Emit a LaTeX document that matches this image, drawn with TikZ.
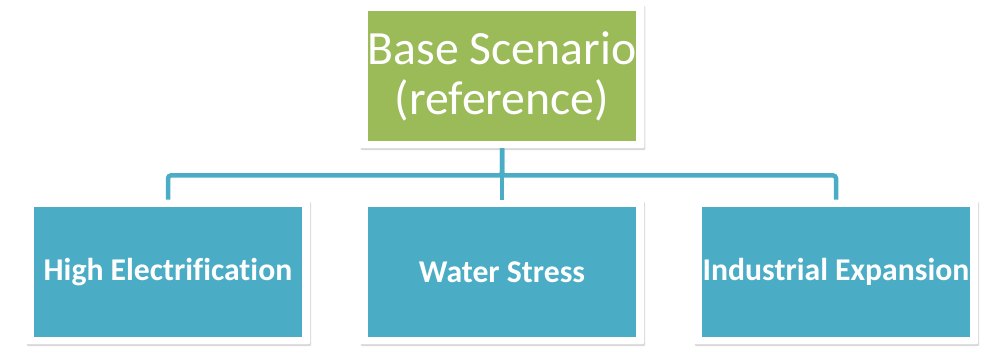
\documentclass[tikz,border=0pt]{standalone}
\usepackage{fontspec}
\setmainfont{Carlito}[Ligatures=NoCommon]
\usetikzlibrary{shadows,fit,backgrounds}
\definecolor{leafgreen}{HTML}{9BBB59}
\definecolor{tealblue}{HTML}{4BACC6}
\begin{document}
\begin{tikzpicture}[x=1pt,y=-1pt,
  card/.style={rectangle, minimum width=268pt, minimum height=130pt, inner sep=0pt, text=white, align=center},
  rootcard/.style={card, fill=leafgreen, font=\fontsize{47.7}{50}\selectfont},
  leafcard/.style={card, fill=tealblue, font=\bfseries\fontsize{31.7}{36}\selectfont},
  frame/.style={rectangle, fill=white, inner xsep=8pt, inner ysep=7pt, rounded corners=2pt,
    drop shadow={opacity=0.3, shadow xshift=1pt, shadow yshift=-2pt}},
  conn/.style={draw=tealblue, line width=4.5pt, rounded corners=3pt}]
\useasboundingbox (0,0) rectangle (984,346);

% coloured cards
\node[rootcard] (root) at (502,76) {Base Scenario\\(reference)};
\node[leafcard] (elec) at (168,272) {High Electrification};
\node[leafcard] (water) at (502,272) {Water Stress};
\node[leafcard] (indus) at (836,272) {Industrial Expansion};

% white frames and connectors behind the cards
\begin{scope}[on background layer]
  \node[frame, fit=(root)] (rootf) {};
  \node[frame, fit=(elec)] (elecf) {};
  \node[frame, fit=(water)] (waterf) {};
  \node[frame, fit=(indus)] (indusf) {};
  \draw[conn] (rootf.south) -- (waterf.north);
  \draw[conn] (rootf.south) -- ++(0,27) -| (elecf.north);
  \draw[conn] (rootf.south) -- ++(0,27) -| (indusf.north);
\end{scope}
\end{tikzpicture}
\end{document}
